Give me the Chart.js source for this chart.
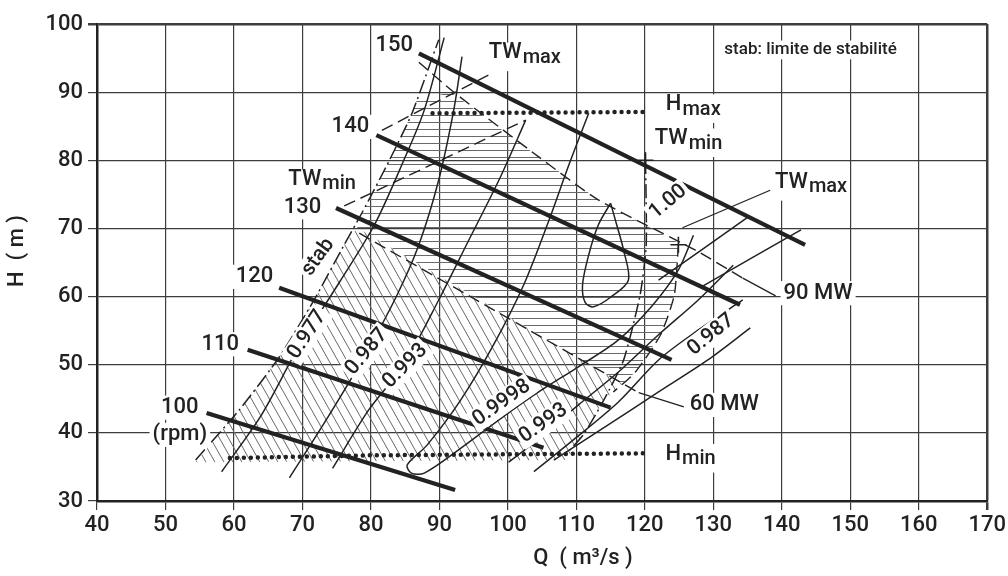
<!DOCTYPE html>
<html lang="fr">
<head>
<meta charset="UTF-8">
<title>Colline de rendement</title>
<script src="https://cdn.jsdelivr.net/npm/chart.js"></script>
<style>
  html, body { margin: 0; padding: 0; background: #fff; }
  canvas { display: block; }
</style>
</head>
<body>
<canvas id="hill" width="1008" height="576"></canvas>
<script>
// axis ticks
const qTicks = [40, 50, 60, 70, 80, 90, 100, 110, 120, 130, 140, 150, 160, 170];
const hTicks = [30, 40, 50, 60, 70, 80, 90, 100];

// speed lines (rpm), [Q, H]
const rpm100 = [[56.0, 42.9], [92.3, 31.6]];
const rpm110 = [[62.0, 52.2], [105.2, 37.8]];
const rpm120 = [[66.6, 61.3], [115.0, 43.7]];
const rpm130 = [[74.9, 73.0], [123.9, 50.7]];
const rpm140 = [[80.8, 83.7], [133.9, 58.8]];
const rpm150 = [[87.0, 95.7], [143.4, 67.6]];

// head limits
const hMax = [[89.0, 86.9], [120.5, 87.1]];
const hMin = [[59.4, 36.3], [80.0, 36.7], [120.2, 37.0]];

// stability limit
const stabLimit = [[54.4, 36.0], [60.8, 43.4], [66.6, 51.1], [71.7, 59.5], [76.1, 67.6],
  [78.7, 72.3], [82.7, 80.0], [86.0, 86.9], [89.9, 97.7]];

// efficiency curves
const eta977 = [[58.2, 34.3], [64.0, 42.6], [69.6, 52.9], [75.4, 62.1], [80.5, 70.5], [84.8, 80.0], [87.8, 87.4], [90.7, 98.0]];
const eta987 = [[68.1, 33.4], [73.9, 42.6], [79.3, 51.7], [83.8, 60.2], [87.0, 67.6], [89.9, 77.1], [92.1, 87.4], [93.3, 95.2]];
const eta993 = [[74.4, 34.8], [79.7, 43.4], [84.8, 50.0], [89.9, 59.5], [94.3, 68.3], [98.7, 77.1], [102.6, 85.9]];
const eta9998 = [[111.8, 86.9], [108.9, 79.3], [106.0, 71.2], [102.3, 61.7], [97.9, 52.9], [93.1, 44.8], [88.2, 38.2],
  [85.3, 35.3], [85.9, 34.1], [87.8, 34.1], [92.8, 37.5], [99.1, 42.2], [104.5, 46.0], [110.3, 49.7],
  [116.1, 53.6], [121.2, 58.8], [124.9, 63.9], [127.1, 69.0]];
const eta993b = [[100.1, 35.7], [104.9, 39.4], [110.3, 44.1], [116.1, 48.9], [122.0, 54.4], [127.8, 59.5], [132.9, 64.6]];
const eta987b = [[103.8, 34.3], [109.6, 39.0], [116.1, 44.5], [122.0, 50.7], [127.8, 55.1], [134.3, 59.5]];
const eta987c = [[106.7, 36.0], [114.7, 41.2], [122.0, 46.0], [129.2, 50.7], [135.4, 55.4]];
const eta100 = [[115.0, 73.7], [113.2, 70.5], [111.8, 66.1], [110.9, 61.7], [111.3, 59.1], [112.5, 58.5],
  [115.0, 59.9], [117.6, 62.4], [116.9, 66.8], [115.9, 70.5], [115.0, 73.7]];
const outerA = [[128.2, 61.4], [142.8, 69.8]];
const outerB = [[122.0, 62.4], [135.1, 71.7]];

// power lines
const mw90 = [[87.0, 94.4], [92.1, 90.0], [104.5, 80.5], [113.2, 74.2], [127.4, 66.8], [134.3, 62.7]];
const mw90Lead = [[134.3, 62.7], [139.1, 60.1]];
const mw60 = [[78.3, 69.3], [119.1, 45.9]];
const mw60Lead = [[119.1, 45.9], [125.7, 43.8]];

// tail water limits
const twMinLeft = [[76.1, 73.3], [102.6, 85.9]];
const twMaxTop = [[81.6, 84.4], [97.7, 92.8]];
const twMaxLead = [[138.3, 75.6], [125.5, 70.1]];
const edgeOuter = [[120.1, 80.0], [120.2, 67.6], [119.3, 60.2], [116.9, 50.7], [114.0, 44.8], [111.0, 39.7], [108.4, 36.8]];
const edgeInner = [[124.9, 67.6], [124.3, 60.2], [122.3, 54.4], [118.6, 48.9], [115.4, 46.0]];
const twPoints = [[120.1, 80.0], [124.9, 67.6]];

// hatched zones
const zoneUpper = [[78.0, 70.1], [78.7, 72.3], [82.7, 80.0], [86.0, 86.9], [86.7, 88.9], [91.7, 90.0], [104.5, 80.5],
  [113.2, 74.2], [124.9, 67.9], [124.3, 60.2], [122.3, 54.4], [118.6, 48.9], [116.7, 47.2]];
const zoneLower = [[54.4, 35.7], [60.8, 43.4], [66.6, 51.1], [71.7, 59.5], [76.1, 67.6], [78.0, 70.1],
  [116.7, 47.2], [114.0, 44.8], [111.0, 39.7], [108.4, 36.0]];

const ink = '#222';
const FONT = 'Roboto, "Liberation Sans", sans-serif';

// text on the chart
const notes = [
  { t: '150', q: 83.4, h: 96.9, s: 22 },
  { t: '140', q: 77.0, h: 84.9, s: 22 },
  { t: 'TW', sub: 'min', q: 72.8, h: 76.9, s: 22 },
  { t: '130', q: 70.0, h: 73.1, s: 22 },
  { t: '120', q: 63.0, h: 62.9, s: 22 },
  { t: '110', q: 58.0, h: 53.0, s: 22 },
  { t: '100', q: 52.1, h: 43.7, s: 22 },
  { t: '(rpm)', q: 52.1, h: 39.7, s: 22 },
  { t: 'TW', sub: 'max', q: 102.4, h: 95.5, s: 22 },
  { t: 'stab: limite de stabilité', q: 144.2, h: 96.2, s: 17 },
  { t: 'H', sub: 'max', q: 127.0, h: 87.9, s: 22 },
  { t: 'TW', sub: 'min', q: 126.3, h: 82.9, s: 22 },
  { t: 'TW', sub: 'max', q: 144.2, h: 76.5, s: 22 },
  { t: '90 MW', q: 145.3, h: 60.5, s: 22 },
  { t: '60 MW', q: 131.6, h: 44.1, s: 22 },
  { t: 'H', sub: 'min', q: 126.6, h: 36.6, s: 22 },
  { t: 'stab', q: 72.3, h: 65.8, s: 21, r: -54 },
  { t: '0.977', q: 70.7, h: 54.4, s: 21, r: -57 },
  { t: '0.987', q: 79.4, h: 51.9, s: 21, r: -50 },
  { t: '0.993', q: 85.0, h: 49.8, s: 21, r: -45 },
  { t: '0.9998', q: 99.1, h: 44.4, s: 21, r: -35 },
  { t: '0.993', q: 105.2, h: 41.4, s: 21, r: -35 },
  { t: '0.987', q: 129.7, h: 54.4, s: 21, r: -39 },
  { t: '1.00', q: 123.4, h: 73.9, s: 21, r: -40 }
];

const canvas = document.getElementById('hill');
const ctx = canvas.getContext('2d');

function hatch(w, h, draw) {
  const c = document.createElement('canvas');
  c.width = w; c.height = h;
  const g = c.getContext('2d');
  g.strokeStyle = '#6a6a6a';
  g.lineWidth = 1;
  draw(g, w, h);
  return ctx.createPattern(c, 'repeat');
}
const horizHatch = hatch(8, 7, (g, w) => { g.beginPath(); g.moveTo(0, 3.5); g.lineTo(w, 3.5); g.stroke(); });
const diagHatch = hatch(9, 16, (g, w, h) => {
  g.beginPath();
  [-w, 0, w].forEach(o => { g.moveTo(o, 0); g.lineTo(o + w, h); });
  g.stroke();
});

const pts = arr => arr.map(p => ({ x: p[0], y: p[1] }));
function line(arr, opts) {
  return Object.assign({
    data: pts(arr), showLine: true, pointRadius: 0, borderColor: ink,
    borderWidth: 1.5, fill: false, tension: 0
  }, opts);
}

const thick = { borderWidth: 4.2 };
const curve = { borderWidth: 1.5, tension: 0.3 };
const dashed = { borderWidth: 1.4, borderDash: [12, 6] };
const dashDot = { borderWidth: 1.5, borderDash: [14, 4, 2, 4] };
const dotted = { borderWidth: 4.5, borderDash: [0, 7], borderCapStyle: 'round' };

const datasets = [
  line(zoneUpper, { fill: 'shape', backgroundColor: horizHatch, borderColor: 'rgba(0,0,0,0)', order: 20 }),
  line(zoneLower, { fill: 'shape', backgroundColor: diagHatch, borderColor: 'rgba(0,0,0,0)', order: 20 }),
  line(eta977, curve), line(eta987, curve), line(eta993, curve), line(eta9998, curve),
  line(eta993b, curve), line(eta987b, curve), line(eta987c, curve), line(eta100, curve),
  line(outerA, curve), line(outerB, curve),
  line(stabLimit, Object.assign({}, dashDot, { tension: 0.2 })),
  line(mw90, Object.assign({}, dashed, { tension: 0.2 })), line(mw90Lead, { borderWidth: 1.3 }),
  line(mw60, dashed), line(mw60Lead, { borderWidth: 1.3 }),
  line(twMinLeft, dashed), line(twMaxTop, dashed), line(twMaxLead, { borderWidth: 1.3 }),
  line(edgeOuter, Object.assign({}, dashDot, { tension: 0.2 })),
  line(edgeInner, Object.assign({}, dashed, { tension: 0.2 })),
  line(rpm100, thick), line(rpm110, thick), line(rpm120, thick),
  line(rpm130, thick), line(rpm140, thick), line(rpm150, thick),
  line(hMax, dotted), line(hMin, dotted),
  { data: pts(twPoints), showLine: false, pointStyle: 'cross', pointRadius: 8, borderColor: ink, borderWidth: 1.6 }
];

const notesPlugin = {
  id: 'notes',
  afterDatasetsDraw(chart) {
    const { ctx, scales: { x, y } } = chart;
    ctx.save();
    notes.forEach(n => {
      const px = x.getPixelForValue(n.q), py = y.getPixelForValue(n.h);
      const subSize = Math.round(n.s * 0.92);
      const mainFont = '500 ' + n.s + 'px ' + FONT;
      const subFont = '500 ' + subSize + 'px ' + FONT;
      ctx.save();
      ctx.translate(px, py);
      ctx.rotate((n.r || 0) * Math.PI / 180);
      ctx.font = mainFont;
      const w1 = ctx.measureText(n.t).width;
      let w2 = 0;
      if (n.sub) { ctx.font = subFont; w2 = ctx.measureText(n.sub).width; }
      const w = w1 + w2;
      const x0 = -w / 2;
      ctx.fillStyle = '#fff';
      ctx.fillRect(x0 - 3, -n.s * 0.55, w + 6, n.s * (n.sub ? 1.3 : 1.1));
      ctx.fillStyle = ink;
      ctx.textBaseline = 'middle';
      ctx.textAlign = 'left';
      ctx.font = mainFont;
      ctx.fillText(n.t, x0, n.sub ? -2 : 0);
      if (n.sub) {
        ctx.font = subFont;
        ctx.fillText(n.sub, x0 + w1 + 1, n.s * 0.14);
      }
      ctx.restore();
    });
    // axis titles
    ctx.fillStyle = ink;
    ctx.textAlign = 'center';
    ctx.textBaseline = 'middle';
    ctx.font = '500 22px ' + FONT;
    ctx.fillText('Q  ( m³/s )', 583, 558);
    ctx.translate(17, 251);
    ctx.rotate(-Math.PI / 2);
    ctx.fillText('H  ( m )', 0, 0);
    ctx.restore();
  }
};

const edgeWidth = (edge) => (c) => (c.tick && c.tick.value === edge ? 2.5 : 1.2);

new Chart(ctx, {
  type: 'scatter',
  data: { datasets },
  options: {
    responsive: false,
    animation: false,
    devicePixelRatio: 1,
    layout: { padding: { top: 24, right: 18, left: 0, bottom: 0 } },
    plugins: { legend: { display: false }, tooltip: { enabled: false } },
    scales: {
      x: {
        type: 'linear', min: 40, max: 170,
        afterBuildTicks: s => { s.ticks = qTicks.map(v => ({ value: v })); },
        afterFit: s => { s.height = 75; },
        ticks: { color: ink, font: { family: FONT, size: 22, weight: '500' }, padding: 2 },
        grid: { color: '#3c3c3c', lineWidth: edgeWidth(170), tickLength: 9 },
        border: { color: ink, width: 2.5 }
      },
      y: {
        type: 'linear', min: 30, max: 100,
        afterBuildTicks: s => { s.ticks = hTicks.map(v => ({ value: v })); },
        afterFit: s => { s.width = 97; },
        ticks: { color: ink, font: { family: FONT, size: 22, weight: '500' }, padding: 5 },
        grid: { color: '#3c3c3c', lineWidth: edgeWidth(100), tickLength: 9 },
        border: { color: ink, width: 2.5 }
      }
    }
  },
  plugins: [notesPlugin]
});
</script>
</body>
</html>
